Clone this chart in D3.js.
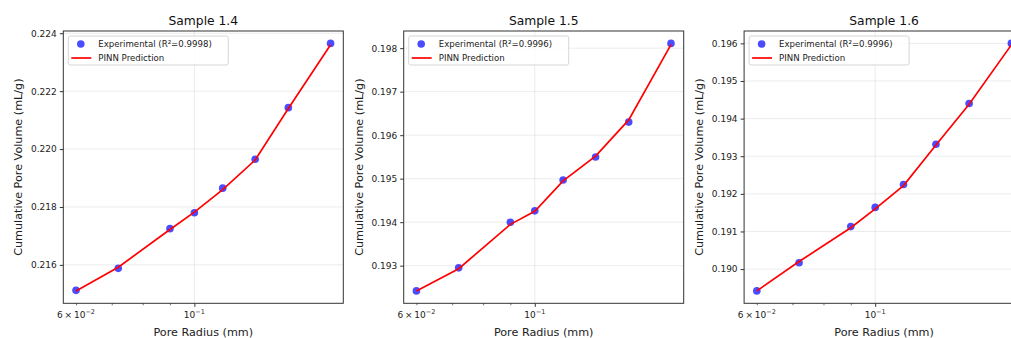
<!DOCTYPE html>
<html>
<head>
<meta charset="utf-8">
<script src="https://cdn.jsdelivr.net/npm/d3@7"></script>
<style>
  body { margin: 0; background: #fff; }
  svg { display: block; font-family: "DejaVu Sans", sans-serif; }
</style>
</head>
<body>
<div id="chart"></div>
<script>
// pore radius (mm), same for all three samples
const radius = [0.06, 0.072, 0.09, 0.1, 0.113, 0.13, 0.15, 0.18];

const titles = ["Sample 1.4", "Sample 1.5", "Sample 1.6"];
const r2 = ["0.9998", "0.9996", "0.9996"];

// measured cumulative pore volume (mL/g)
const exp14 = [0.21512, 0.21588, 0.21725, 0.21780, 0.21865, 0.21965, 0.22143, 0.22365];
const exp15 = [0.19242, 0.19295, 0.19400, 0.19426, 0.19497, 0.19550, 0.19630, 0.19811];
const exp16 = [0.18942, 0.19017, 0.19113, 0.19164, 0.19225, 0.19332, 0.19440, 0.19600];

// PINN prediction
const pred14 = [0.21510, 0.21592, 0.21722, 0.21782, 0.21860, 0.21962, 0.22140, 0.22360];
const pred15 = [0.19242, 0.19293, 0.19395, 0.19425, 0.19495, 0.19552, 0.19635, 0.19808];
const pred16 = [0.18942, 0.19020, 0.19110, 0.19160, 0.19222, 0.19330, 0.19438, 0.19596];

// y tick values per panel
const yTicks14 = [0.216, 0.218, 0.220, 0.222, 0.224];
const yTicks15 = [0.193, 0.194, 0.195, 0.196, 0.197, 0.198];
const yTicks16 = [0.190, 0.191, 0.192, 0.193, 0.194, 0.195, 0.196];

const xMajor = [0.1];
const xMinor = [0.06, 0.07, 0.08, 0.09];

const panels = [
  {exp: exp14, pred: pred14, ticks: yTicks14},
  {exp: exp15, pred: pred15, ticks: yTicks15},
  {exp: exp16, pred: pred16, ticks: yTicks16}
];

const width = 1011, height = 338;
const pw = 280, plotTop = 31, plotBottom = 303.3;

const svg = d3.select("#chart").append("svg")
  .attr("width", width).attr("height", height)
  .attr("viewBox", [0, 0, width, height])
  .style("overflow", "hidden");

// matplotlib-ish 5% margins (log space for x)
const lx = radius.map(Math.log10);
const lmin = d3.min(lx), lmax = d3.max(lx), lpad = (lmax - lmin) * 0.05;

panels.forEach((p, i) => {
  const left = 63.3 + i * 340.4;
  const g = svg.append("g");

  const x = d3.scaleLog()
    .domain([Math.pow(10, lmin - lpad), Math.pow(10, lmax + lpad)])
    .range([left, left + pw]);

  const all = p.exp.concat(p.pred);
  const ymin = d3.min(all), ymax = d3.max(all), ypad = (ymax - ymin) * 0.05;
  const y = d3.scaleLinear()
    .domain([ymin - ypad, ymax + ypad])
    .range([plotBottom, plotTop]);

  // grid
  g.append("g").selectAll("line").data(p.ticks).join("line")
    .attr("x1", left).attr("x2", left + pw)
    .attr("y1", d => y(d)).attr("y2", d => y(d))
    .attr("stroke", "#b0b0b0").attr("stroke-opacity", 0.3).attr("stroke-width", 0.8);
  g.append("g").selectAll("line").data(xMajor).join("line")
    .attr("x1", d => x(d)).attr("x2", d => x(d))
    .attr("y1", plotTop).attr("y2", plotBottom)
    .attr("stroke", "#b0b0b0").attr("stroke-opacity", 0.3).attr("stroke-width", 0.8);

  // y axis
  const yAxis = g.append("g")
    .attr("transform", `translate(${left},0)`)
    .call(d3.axisLeft(y).tickValues(p.ticks).tickFormat(d3.format(".3f")).tickSize(3.5).tickPadding(3));
  yAxis.select(".domain").remove();
  yAxis.selectAll("text").attr("font-size", 9).attr("fill", "#222").attr("font-family", "DejaVu Sans");
  yAxis.selectAll("line").attr("stroke", "#333");

  // x axis: major + minor ticks
  const xAxis = g.append("g")
    .attr("transform", `translate(0,${plotBottom})`)
    .call(d3.axisBottom(x).tickValues(xMajor).tickFormat("").tickSize(3.5));
  xAxis.select(".domain").remove();
  xAxis.selectAll("line").attr("stroke", "#333");
  const xMin = g.append("g")
    .attr("transform", `translate(0,${plotBottom})`)
    .call(d3.axisBottom(x).tickValues(xMinor).tickFormat("").tickSize(2));
  xMin.select(".domain").remove();
  xMin.selectAll("line").attr("stroke", "#333").attr("stroke-width", 0.7);

  // x tick labels with exponents
  const lab1 = g.append("text").attr("x", x(0.06)).attr("y", plotBottom + 15)
    .attr("text-anchor", "middle").attr("font-size", 9).attr("fill", "#222");
  lab1.append("tspan").text("6\u2009×\u200910");
  lab1.append("tspan").attr("dy", -4).attr("font-size", 6.5).text("−2");
  const lab2 = g.append("text").attr("x", x(0.1)).attr("y", plotBottom + 15)
    .attr("text-anchor", "middle").attr("font-size", 9).attr("fill", "#222");
  lab2.append("tspan").text("10");
  lab2.append("tspan").attr("dy", -4).attr("font-size", 6.5).text("−1");

  // frame
  g.append("rect")
    .attr("x", left).attr("y", plotTop).attr("width", pw).attr("height", plotBottom - plotTop)
    .attr("fill", "none").attr("stroke", "#333").attr("stroke-width", 1);

  // experimental points
  g.append("g").selectAll("circle").data(p.exp).join("circle")
    .attr("cx", (d, j) => x(radius[j])).attr("cy", d => y(d)).attr("r", 3.8)
    .attr("fill", "blue").attr("fill-opacity", 0.7);

  // prediction line on top of points
  const line = d3.line().x((d, j) => x(radius[j])).y(d => y(d));
  g.append("path").datum(p.pred)
    .attr("d", line).attr("fill", "none")
    .attr("stroke", "red").attr("stroke-width", 1.7);

  // title and labels
  g.append("text").attr("x", left + pw / 2).attr("y", 25)
    .attr("text-anchor", "middle").attr("font-size", 12.3).attr("fill", "#111")
    .text(titles[i]);
  g.append("text").attr("x", left + pw / 2).attr("y", 336)
    .attr("text-anchor", "middle").attr("font-size", 11.2).attr("fill", "#222")
    .text("Pore Radius (mm)");
  g.append("text")
    .attr("transform", `translate(${left - 41},${(plotTop + plotBottom) / 2}) rotate(-90)`)
    .attr("text-anchor", "middle").attr("font-size", 11.2).attr("fill", "#222")
    .text("Cumulative Pore Volume (mL/g)");

  // legend
  const lg = g.append("g").attr("transform", `translate(${left + 5},${plotTop + 5})`);
  lg.append("rect").attr("width", 160).attr("height", 29).attr("rx", 2)
    .attr("fill", "#fff").attr("fill-opacity", 0.8)
    .attr("stroke", "#ccc").attr("stroke-width", 0.8);
  lg.append("circle").attr("cx", 12.5).attr("cy", 8).attr("r", 3.8)
    .attr("fill", "blue").attr("fill-opacity", 0.7);
  lg.append("text").attr("x", 30).attr("y", 11).attr("font-size", 8.6).attr("fill", "#222")
    .text(`Experimental (R²=${r2[i]})`);
  lg.append("line").attr("x1", 3).attr("x2", 23).attr("y1", 22).attr("y2", 22)
    .attr("stroke", "red").attr("stroke-width", 1.7);
  lg.append("text").attr("x", 30).attr("y", 25).attr("font-size", 8.6).attr("fill", "#222")
    .text("PINN Prediction");
});
</script>
</body>
</html>
